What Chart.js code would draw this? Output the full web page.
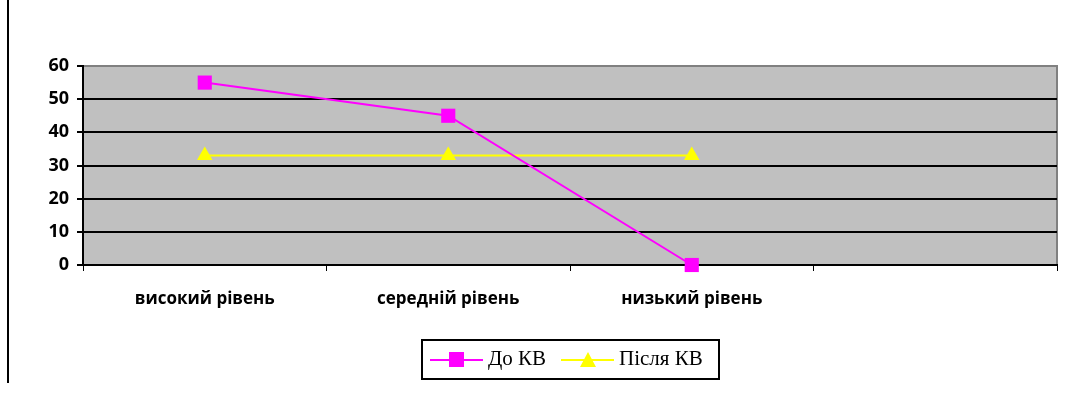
<!DOCTYPE html>
<html>
<head>
<meta charset="utf-8">
<script src="https://cdn.jsdelivr.net/npm/chart.js@4.4.1/dist/chart.umd.min.js"></script>
<style>
  body { margin: 0; background: #fff; }
  #wrap { position: relative; width: 1077px; height: 395px; }
  #legend {
    position: absolute; left: 421px; top: 339px; width: 295px; height: 37px;
    border: 2px solid #000; font-family: "Liberation Serif", serif; font-size: 21px;
    box-sizing: content-box;
  }
  .ln { position: absolute; height: 2px; top: 18px; width: 53px; }
  .txt { position: absolute; top: 5px; white-space: nowrap; }
</style>
</head>
<body>
<div id="wrap">
  <canvas id="chart"></canvas>
  <div id="legend"></div>
</div>
<script>
const categories = ['високий рівень', 'середній рівень', 'низький рівень', ''];
const beforeKV = [55, 45, 0, null];
const afterKV = [33, 33, 33, null];
const seriesNames = ['До КВ', 'Після КВ'];
const yTicks = [0, 10, 20, 30, 40, 50, 60];

const magenta = '#FF00FF';
const yellow = '#FFFF00';

// grey plot area + frame + left page line
const plotBg = {
  id: 'plotBg',
  beforeDraw(chart) {
    const { ctx, chartArea: a } = chart;
    ctx.save();
    ctx.fillStyle = '#C0C0C0';
    ctx.fillRect(a.left, a.top, a.right - a.left, a.bottom - a.top);
    ctx.strokeStyle = '#808080';
    ctx.lineWidth = 2;
    ctx.beginPath();
    ctx.moveTo(a.left, a.top);
    ctx.lineTo(a.right, a.top);
    ctx.lineTo(a.right, a.bottom);
    ctx.stroke();
    ctx.strokeStyle = '#000';
    ctx.beginPath();
    ctx.moveTo(8, 0);
    ctx.lineTo(8, 383);
    ctx.stroke();
    ctx.restore();
  }
};

const ctx = document.getElementById('chart').getContext('2d');
new Chart(ctx, {
  type: 'line',
  data: {
    labels: categories,
    datasets: [
      {
        label: seriesNames[0],
        data: beforeKV,
        borderColor: magenta,
        backgroundColor: magenta,
        borderWidth: 2,
        pointStyle: 'rect',
        pointRadius: 10,
        pointBorderWidth: 0,
        tension: 0,
        clip: false
      },
      {
        label: seriesNames[1],
        data: afterKV,
        borderColor: yellow,
        backgroundColor: yellow,
        borderWidth: 2,
        pointStyle: 'triangle',
        pointRadius: 9,
        pointBorderWidth: 0,
        tension: 0,
        clip: false
      }
    ]
  },
  options: {
    responsive: true,
    maintainAspectRatio: false,
    animation: false,
    layout: { padding: { top: 66, right: 20, bottom: 0, left: 0 } },
    scales: {
      x: {
        offset: true,
        grid: {
          offset: true,
          drawOnChartArea: false,
          drawTicks: true,
          tickLength: 6,
          color: '#000',
          lineWidth: 1
        },
        border: { color: '#000', width: 2 },
        ticks: {
          color: '#000',
          padding: 18,
          maxRotation: 0,
          autoSkip: false,
          font: { family: 'Open Sans', weight: 'bold', size: 17 }
        },
        afterFit(scale) { scale.height = 130; }
      },
      y: {
        min: 0,
        max: 60,
        afterBuildTicks(scale) { scale.ticks = yTicks.map(v => ({ value: v })); },
        grid: {
          color: c => (c.tick && c.tick.value === 60 ? '#808080' : '#000'),
          lineWidth: 2,
          tickLength: 6,
          tickColor: '#000'
        },
        border: { color: '#000', width: 2 },
        ticks: {
          color: '#000',
          padding: 8,
          font: { family: 'Open Sans', weight: 'bold', size: 18 }
        },
        afterFit(scale) { scale.width = 83; }
      }
    },
    plugins: {
      legend: { display: false },
      tooltip: { enabled: false }
    }
  },
  plugins: [plotBg]
});

// legend: line with marker, like the original
const legend = document.getElementById('legend');
legend.innerHTML =
  '<div class="ln" style="left:7px;background:' + magenta + '"></div>' +
  '<div style="position:absolute;left:26px;top:11px;width:15px;height:15px;background:' + magenta + '"></div>' +
  '<div class="txt" style="left:65px">' + seriesNames[0] + '</div>' +
  '<div class="ln" style="left:138px;background:' + yellow + '"></div>' +
  '<div style="position:absolute;left:157px;top:11px;width:0;height:0;border-left:8px solid transparent;border-right:8px solid transparent;border-bottom:15px solid ' + yellow + '"></div>' +
  '<div class="txt" style="left:196px">' + seriesNames[1] + '</div>';
</script>
</body>
</html>
